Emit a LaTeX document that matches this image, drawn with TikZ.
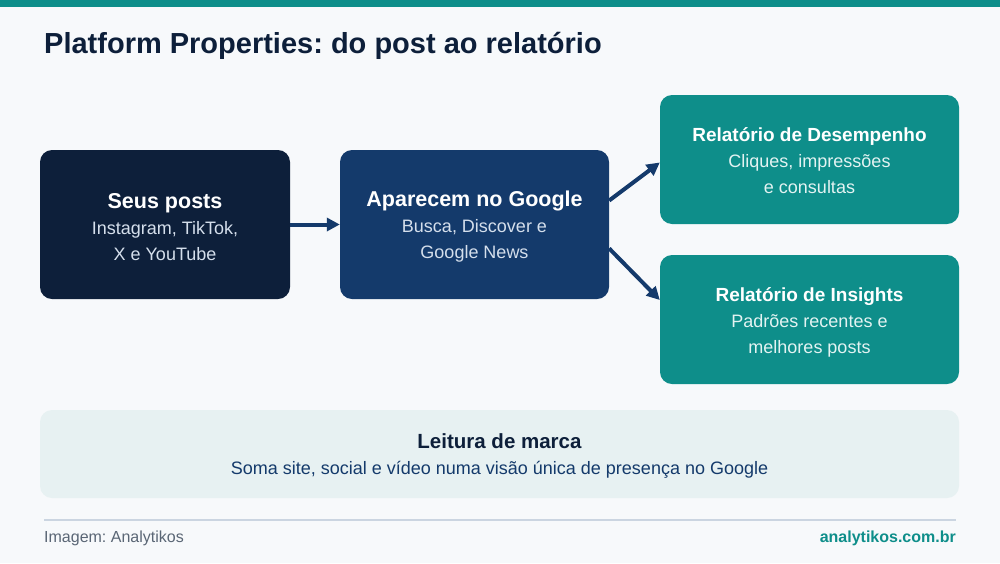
\documentclass[tikz,border=0pt]{standalone}
\usepackage{fontspec}
\setmainfont{Liberation Sans}
\usetikzlibrary{arrows.meta}
\frenchspacing
\definecolor{bg}{HTML}{F7F9FB}
\definecolor{teal}{HTML}{0E8E8A}
\definecolor{navy}{HTML}{0D1F3A}
\definecolor{blue}{HTML}{143A6B}
\definecolor{pale}{HTML}{E7F1F2}
\definecolor{subA}{HTML}{D5DFEC}
\definecolor{subB}{HTML}{E3F3F2}
\definecolor{rule}{HTML}{CBD5E1}
\definecolor{gray}{HTML}{5A6675}
\newcommand{\ttl}[1]{{\fontsize{21.5}{27}\selectfont\bfseries #1}}
\newcommand{\ttlb}[1]{{\fontsize{19}{27}\selectfont\bfseries #1}}
\tikzset{
  box/.style={rounded corners=12pt, inner sep=0pt},
  txt/.style={inner sep=0pt, align=center, text=white, font=\fontsize{18}{26}\selectfont},
  arr/.style={draw=blue, line width=4pt, -{Triangle[length=13pt,width=13pt]}}
}
\begin{document}
\begin{tikzpicture}[x=1pt,y=-1pt]
\useasboundingbox (0,0) rectangle (1000,563);
\fill[bg] (0,0) rectangle (1000,563);
\fill[teal] (0,0) rectangle (1000,7);
\node[anchor=base west, text=navy, font=\fontsize{29}{32}\selectfont\bfseries, inner sep=0pt] (title) at (44,53) {Platform Properties: do post ao relatório};

\node[box, fill=navy, minimum width=250pt, minimum height=149pt] (b1) at (165,224.5) {};
\node[box, fill=blue, minimum width=269pt, minimum height=149pt] (b2) at (474.5,224.5) {};
\node[box, fill=teal, minimum width=299pt, minimum height=129pt] (b3) at (809.5,159.5) {};
\node[box, fill=teal, minimum width=299pt, minimum height=129pt] (b4) at (809.5,319.5) {};
\node[box, fill=pale, minimum width=919pt, minimum height=88pt] (b5) at (499.5,454) {};

\node[txt] (t1) at ([yshift=-2.5pt]b1.center)
  {\ttl{Seus posts}\\ \color{subA}Instagram, TikTok,\\ \color{subA}X e YouTube};
\node[txt] (t2) at ([yshift=-2.5pt]b2.center)
  {\ttl{Aparecem no Google}\\ \color{subA}Busca, Discover e\\ \color{subA}Google News};
\node[txt] (t3) at ([yshift=-1pt]b3.center)
  {\ttlb{Relatório de Desempenho}\\ \color{subB}Cliques, impressões\\ \color{subB}e consultas};
\node[txt] (t4) at ([yshift=-2.5pt]b4.center)
  {\ttlb{Relatório de Insights}\\ \color{subB}Padrões recentes e\\ \color{subB}melhores posts};
\node[txt, text=blue] (t5) at ([yshift=-2pt]b5.center)
  {{\fontsize{20.5}{27}\selectfont\bfseries\color{navy}Leitura de marca}\\ Soma site, social e vídeo numa visão única de presença no Google};

\draw[arr] (b1.east) -- (b2.west);
\draw[arr] ([yshift=24pt]b2.east) -- ([yshift=-3pt]b3.west);
\draw[arr] ([yshift=-24pt]b2.east) -- ([yshift=19.5pt]b4.west);

\draw[rule, line width=2pt] (44,520) -- (956,520);
\node[anchor=base west, inner sep=0pt, text=gray, font=\fontsize{16}{18}\selectfont] (src) at (44,542) {Imagem: Analytikos};
\node[anchor=base east, inner sep=0pt, text=teal, font=\fontsize{16}{18}\selectfont\bfseries] (url) at (956,542) {analytikos.com.br};
\end{tikzpicture}
\end{document}
